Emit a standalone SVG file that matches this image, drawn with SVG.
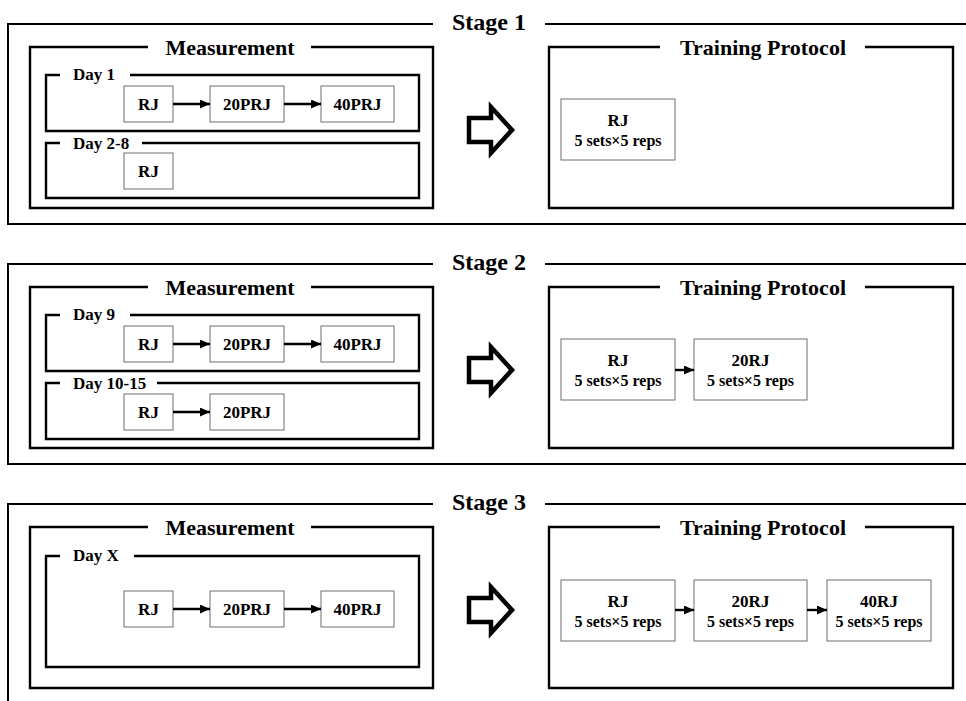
<svg xmlns="http://www.w3.org/2000/svg" width="966" height="701" viewBox="0 0 966 701">
<style>
text{font-family:"Liberation Serif","Times New Roman",serif;font-weight:bold;fill:#000}
.stage{font-size:24px;text-anchor:middle}
.title{font-size:22px;text-anchor:middle}
.day{font-size:17px}
.lbl{font-size:17px;text-anchor:middle}
.sub{font-size:16px;text-anchor:middle}
.frame{fill:none;stroke:#000;stroke-width:2}
.mframe{fill:none;stroke:#000;stroke-width:2.4}
.box{fill:#fff;stroke:#6e6e6e;stroke-width:1}
.conn{fill:none;stroke:#000;stroke-width:2.4}
.big{fill:#fff;stroke:#000;stroke-width:4.5;stroke-linejoin:miter}
</style>
<defs>
<marker id="ah" markerUnits="userSpaceOnUse" markerWidth="10" markerHeight="9" refX="10" refY="4.5" orient="auto">
<path d="M0,0 L10,4.5 L0,9 z" fill="#000"/>
</marker>
</defs>
<rect width="966" height="701" fill="#fff"/>

<!-- Stage 1 -->
<g id="stage1">
<path class="frame" d="M433,24 H8 V224 H980 M545,24 H980"/>
<text class="stage" x="489" y="30">Stage 1</text>
<g id="s1-measurement">
<path class="mframe" d="M148,47 H30 V208 H433 V47 H311"/>
<text class="title" x="230" y="55">Measurement</text>
</g>
<g id="s1-day1">
<path class="mframe" d="M60,75 H46 V131 H419 V75 H130"/>
<text class="day" x="73" y="80">Day 1</text>
</g>
<g id="s1-day1-rj"><rect class="box" x="124" y="86" width="49" height="36"/><text class="lbl" x="148.5" y="110">RJ</text></g>
<g id="s1-day1-20prj"><rect class="box" x="210" y="86" width="74" height="36"/><text class="lbl" x="247" y="110">20PRJ</text></g>
<g id="s1-day1-40prj"><rect class="box" x="321" y="86" width="73" height="36"/><text class="lbl" x="357.5" y="110">40PRJ</text></g>
<g id="s1-day2-8">
<path class="mframe" d="M60,143 H46 V198 H419 V143 H142"/>
<text class="day" x="73" y="149">Day 2-8</text>
</g>
<g id="s1-day2-8-rj"><rect class="box" x="124" y="153" width="49" height="36"/><text class="lbl" x="148.5" y="177">RJ</text></g>
<g id="s1-arrow"><path class="big" d="M469,118 H491 V107 L512,130 L491,153 V142 H469 Z"/></g>
<g id="s1-training">
<path class="mframe" d="M660,47 H549 V208 H953 V47 H865"/>
<text class="title" x="763" y="55">Training Protocol</text>
</g>
<g id="s1-tr-rj"><rect class="box" x="561" y="99" width="114" height="61"/><text class="lbl" x="618" y="126">RJ</text><text class="sub" x="618" y="146">5 sets×5 reps</text></g>
</g>

<!-- Stage 2 -->
<g id="stage2">
<path class="frame" d="M433,264 H8 V464 H980 M545,264 H980"/>
<text class="stage" x="489" y="270">Stage 2</text>
<g id="s2-measurement">
<path class="mframe" d="M148,287 H30 V448 H433 V287 H311"/>
<text class="title" x="230" y="295">Measurement</text>
</g>
<g id="s2-day9">
<path class="mframe" d="M60,315 H46 V371 H419 V315 H130"/>
<text class="day" x="73" y="320">Day 9</text>
</g>
<g id="s2-day9-rj"><rect class="box" x="124" y="326" width="49" height="36"/><text class="lbl" x="148.5" y="350">RJ</text></g>
<g id="s2-day9-20prj"><rect class="box" x="210" y="326" width="74" height="36"/><text class="lbl" x="247" y="350">20PRJ</text></g>
<g id="s2-day9-40prj"><rect class="box" x="321" y="326" width="73" height="36"/><text class="lbl" x="357.5" y="350">40PRJ</text></g>
<g id="s2-day10-15">
<path class="mframe" d="M60,383 H46 V439 H419 V383 H157"/>
<text class="day" x="73" y="389">Day 10-15</text>
</g>
<g id="s2-day10-15-rj"><rect class="box" x="124" y="394" width="49" height="36"/><text class="lbl" x="148.5" y="418">RJ</text></g>
<g id="s2-day10-15-20prj"><rect class="box" x="210" y="394" width="74" height="36"/><text class="lbl" x="247" y="418">20PRJ</text></g>
<g id="s2-arrow"><path class="big" d="M469,358 H491 V347 L512,370 L491,393 V382 H469 Z"/></g>
<g id="s2-training">
<path class="mframe" d="M660,287 H549 V448 H953 V287 H865"/>
<text class="title" x="763" y="295">Training Protocol</text>
</g>
<g id="s2-tr-rj"><rect class="box" x="561" y="339" width="114" height="61"/><text class="lbl" x="618" y="366">RJ</text><text class="sub" x="618" y="386">5 sets×5 reps</text></g>
<g id="s2-tr-20rj"><rect class="box" x="694" y="339" width="113" height="61"/><text class="lbl" x="750.5" y="366">20RJ</text><text class="sub" x="750.5" y="386">5 sets×5 reps</text></g>
</g>

<!-- Stage 3 -->
<g id="stage3">
<path class="frame" d="M433,504 H8 V710 M545,504 H980"/>
<text class="stage" x="489" y="510">Stage 3</text>
<g id="s3-measurement">
<path class="mframe" d="M148,527 H30 V688 H433 V527 H311"/>
<text class="title" x="230" y="535">Measurement</text>
</g>
<g id="s3-dayx">
<path class="mframe" d="M60,556 H46 V667 H419 V556 H134"/>
<text class="day" x="73" y="561">Day X</text>
</g>
<g id="s3-dayx-rj"><rect class="box" x="124" y="591" width="49" height="36"/><text class="lbl" x="148.5" y="615">RJ</text></g>
<g id="s3-dayx-20prj"><rect class="box" x="210" y="591" width="74" height="36"/><text class="lbl" x="247" y="615">20PRJ</text></g>
<g id="s3-dayx-40prj"><rect class="box" x="321" y="591" width="73" height="36"/><text class="lbl" x="357.5" y="615">40PRJ</text></g>
<g id="s3-arrow"><path class="big" d="M469,598 H491 V587 L512,610 L491,633 V622 H469 Z"/></g>
<g id="s3-training">
<path class="mframe" d="M660,527 H549 V688 H953 V527 H865"/>
<text class="title" x="763" y="535">Training Protocol</text>
</g>
<g id="s3-tr-rj"><rect class="box" x="561" y="580" width="114" height="61"/><text class="lbl" x="618" y="607">RJ</text><text class="sub" x="618" y="627">5 sets×5 reps</text></g>
<g id="s3-tr-20rj"><rect class="box" x="694" y="580" width="113" height="61"/><text class="lbl" x="750.5" y="607">20RJ</text><text class="sub" x="750.5" y="627">5 sets×5 reps</text></g>
<g id="s3-tr-40rj"><rect class="box" x="827" y="580" width="104" height="61"/><text class="lbl" x="879" y="607">40RJ</text><text class="sub" x="879" y="627">5 sets×5 reps</text></g>
</g>

<!-- Connectors -->
<g id="connectors">
<path class="conn" marker-end="url(#ah)" d="M173,104 H210"/>
<path class="conn" marker-end="url(#ah)" d="M284,104 H321"/>
<path class="conn" marker-end="url(#ah)" d="M173,344 H210"/>
<path class="conn" marker-end="url(#ah)" d="M284,344 H321"/>
<path class="conn" marker-end="url(#ah)" d="M173,412 H210"/>
<path class="conn" marker-end="url(#ah)" d="M675,370 H694"/>
<path class="conn" marker-end="url(#ah)" d="M173,609 H210"/>
<path class="conn" marker-end="url(#ah)" d="M284,609 H321"/>
<path class="conn" marker-end="url(#ah)" d="M675,610 H694"/>
<path class="conn" marker-end="url(#ah)" d="M807,610 H827"/>
</g>
</svg>
